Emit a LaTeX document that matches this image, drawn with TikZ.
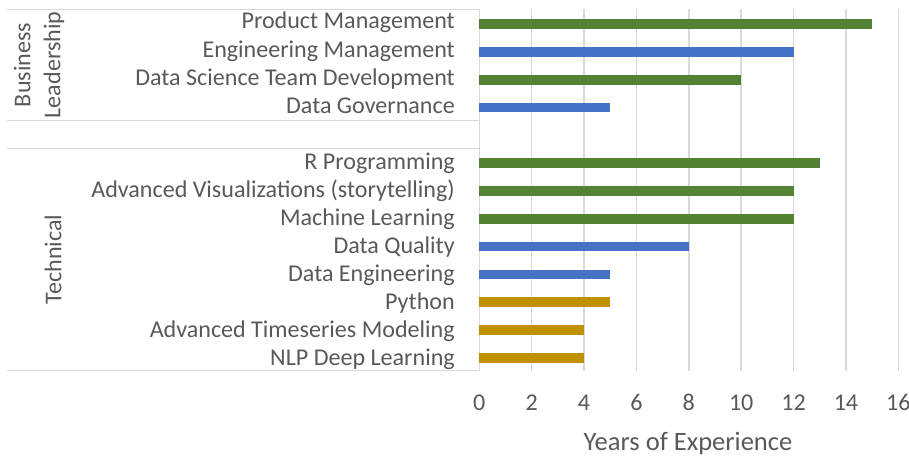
\documentclass[tikz,border=0pt]{standalone}
\usepackage{fontspec}
\setmainfont{Carlito}
\definecolor{barG}{HTML}{548235}
\definecolor{barB}{HTML}{4472C4}
\definecolor{barY}{HTML}{BF9000}
\definecolor{gridgray}{HTML}{D9D9D9}
\definecolor{txtgray}{HTML}{595959}
\tikzset{
  gridline/.style={draw=gridgray, line width=1.1pt},
  catlabel/.style={anchor=base east, text=txtgray, inner sep=0pt, font=\fontsize{18.05}{21}\selectfont},
  ticklabel/.style={anchor=base, text=txtgray, inner sep=0pt, font=\fontsize{18.05}{21}\selectfont},
  grouplabel/.style={rotate=90, text=txtgray, inner sep=0pt, align=center, font=\fontsize{18.05}{22.5}\selectfont},
}
\begin{document}
\begin{tikzpicture}[x=0.75pt,y=-0.75pt]
    \useasboundingbox (0,0) rectangle (909,456);
    % lineas de la tabla de categorias
    \foreach \h in {9.5,120.5,148.3,370.5}
        \draw[gridline] (7,\h) -- (479.3,\h);
    % rejilla vertical y numeros
    \foreach \v in {0,2,...,16} {
        \draw[gridline] ({479.3+26.19*\v},9.5) -- ({479.3+26.19*\v},370.5);
        \node[ticklabel] (tick\v) at ({479.3+26.19*\v},410) {\v};
    }
    % barras y etiquetas
    \foreach \i/\lab/\val/\col in {0/Product Management/15/barG,
        1/Engineering Management/12/barB,
        2/Data Science Team Development/10/barG,
        3/Data Governance/5/barB,
        5/R Programming/13/barG,
        6/Advanced Visualizations (storytelling)/12/barG,
        7/Machine Learning/12/barG,
        8/Data Quality/8/barB,
        9/Data Engineering/5/barB,
        10/Python/5/barY,
        11/Advanced Timeseries Modeling/4/barY,
        12/NLP Deep Learning/4/barY} {
        \fill[\col] (479.3,{24.2+27.8*\i-4.8}) rectangle ({479.3+26.19*\val},{24.2+27.8*\i+4.8});
        \node[catlabel] (lab\i) at (455,{29+28.08*\i}) {\lab};
    }
    \node[grouplabel] (business) at (39,65) {Business\\Leadership};
    \node[grouplabel] (technical) at (53,259.4) {Technical};
    \node[anchor=base, text=txtgray, inner sep=0pt, font=\fontsize{19.9}{24}\selectfont] (xtitle) at (688,450) {Years of Experience};
\end{tikzpicture}
\end{document}
